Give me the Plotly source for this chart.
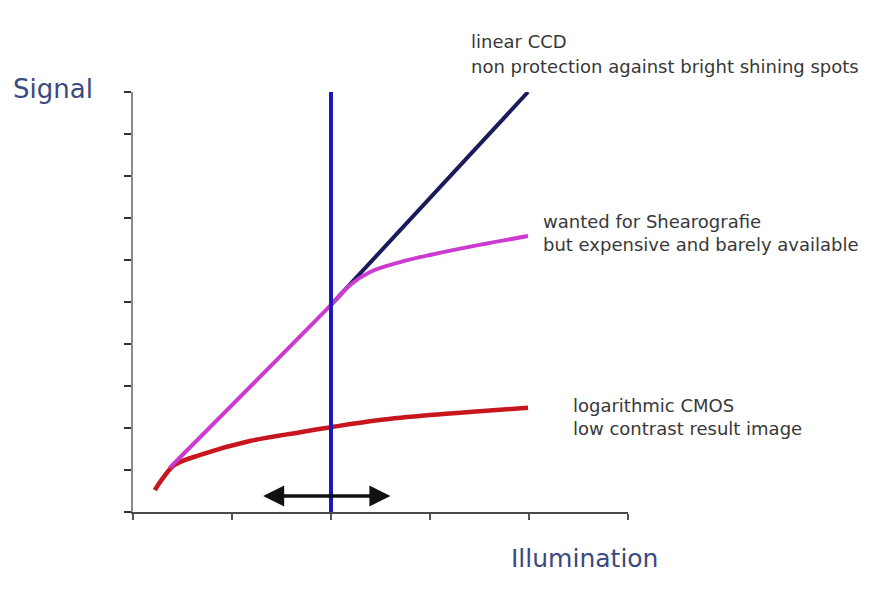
import plotly.graph_objects as go

# ---- data (x = illumination units, y = signal units) ----
cmos_x = [0.22, 0.30, 0.42, 0.68, 1.18, 1.69, 2.00, 2.49, 3.00, 3.50, 3.99]
cmos_y = [0.52, 0.80, 1.12, 1.36, 1.69, 1.90, 2.02, 2.19, 2.31, 2.40, 2.48]

wanted_x = [0.37, 2.00, 2.19, 2.39, 2.70, 3.00, 3.50, 3.99]
wanted_y = [1.05, 4.93, 5.40, 5.71, 5.95, 6.12, 6.36, 6.57]

ccd_x = [2.00, 3.99]
ccd_y = [4.93, 10.0]

marker_x = [2.0, 2.0]
marker_y = [0.0, 10.0]

range_arrow_x = [1.30, 2.60]
range_arrow_y = 0.38

labels = {
    "ccd": ["linear CCD", "non protection against bright shining spots"],
    "wanted": ["wanted for Shearografie", "but expensive and barely available"],
    "cmos": ["logarithmic CMOS", "low contrast result image"],
}

W, H = 870, 594
OFF = 8  # page body margin
L, T = 133 - OFF, 92 - OFF
PW, PH = 495, 420
R = W - L - PW
B = H - T - PH

fig = go.Figure()
fig.add_trace(go.Scatter(x=ccd_x, y=ccd_y, mode="lines",
                         line=dict(color="#1b1b5c", width=4), hoverinfo="skip"))
fig.add_trace(go.Scatter(x=cmos_x, y=cmos_y, mode="lines", line_shape="spline",
                         line=dict(color="#c8161e", width=4.5), hoverinfo="skip"))
fig.add_trace(go.Scatter(x=wanted_x, y=wanted_y, mode="lines", line_shape="spline",
                         line=dict(color="#cc3ad0", width=4), hoverinfo="skip"))
fig.add_trace(go.Scatter(x=marker_x, y=marker_y, mode="lines",
                         line=dict(color="#1a1ab8", width=4), hoverinfo="skip",
                         cliponaxis=False))


def px_to_paper_x(px):
    return (px - OFF - L) / PW


def px_to_paper_y(py):
    return (T + PH - (py - OFF)) / PH


annotations = []
# double arrow
annotations.append(dict(x=range_arrow_x[1], y=range_arrow_y, ax=range_arrow_x[0], ay=range_arrow_y,
                        xref="x", yref="y", axref="x", ayref="y", text="", showarrow=True,
                        arrowhead=2, startarrowhead=2, arrowside="end+start",
                        arrowsize=1.2, startarrowsize=1.2, arrowwidth=3.5, arrowcolor="#111111",
                        standoff=0, startstandoff=0))

txt_font = dict(family="DejaVu Sans", size=18, color="#383838")
positions = {"ccd": (469, [42, 66]), "wanted": (541, [221, 244]), "cmos": (571, [405, 428])}
for key, (px, pys) in positions.items():
    for line, py in zip(labels[key], pys):
        annotations.append(dict(x=px_to_paper_x(px), y=px_to_paper_y(py), xref="paper", yref="paper",
                                text=line, showarrow=False, xanchor="left", yanchor="middle",
                                font=txt_font))

annotations.append(dict(x=px_to_paper_x(11), y=px_to_paper_y(89), xref="paper", yref="paper",
                        text="Signal", showarrow=False, xanchor="left", yanchor="middle",
                        font=dict(family="DejaVu Sans", size=26, color="#3b4a80")))
annotations.append(dict(x=px_to_paper_x(584), y=px_to_paper_y(558), xref="paper", yref="paper",
                        text="Illumination", showarrow=False, xanchor="center", yanchor="middle",
                        font=dict(family="DejaVu Sans", size=25, color="#3b4a80")))

fig.update_layout(
    width=W, height=H,
    margin=dict(l=L, r=R, t=T, b=B),
    paper_bgcolor="white", plot_bgcolor="white",
    showlegend=False,
    annotations=annotations,
    xaxis=dict(range=[0, 5], dtick=1, tick0=0, showgrid=False, zeroline=False,
               showline=True, linecolor="#4a4a4a", linewidth=2,
               ticks="outside", ticklen=6, tickwidth=1.5, tickcolor="#555555",
               showticklabels=False, fixedrange=True),
    yaxis=dict(range=[0, 10], dtick=1, tick0=0, showgrid=False, zeroline=False,
               showline=True, linecolor="#8a8a8a", linewidth=2,
               ticks="outside", ticklen=7, tickwidth=2, tickcolor="#333333",
               showticklabels=False, fixedrange=True),
)

fig.write_html("out.html")
